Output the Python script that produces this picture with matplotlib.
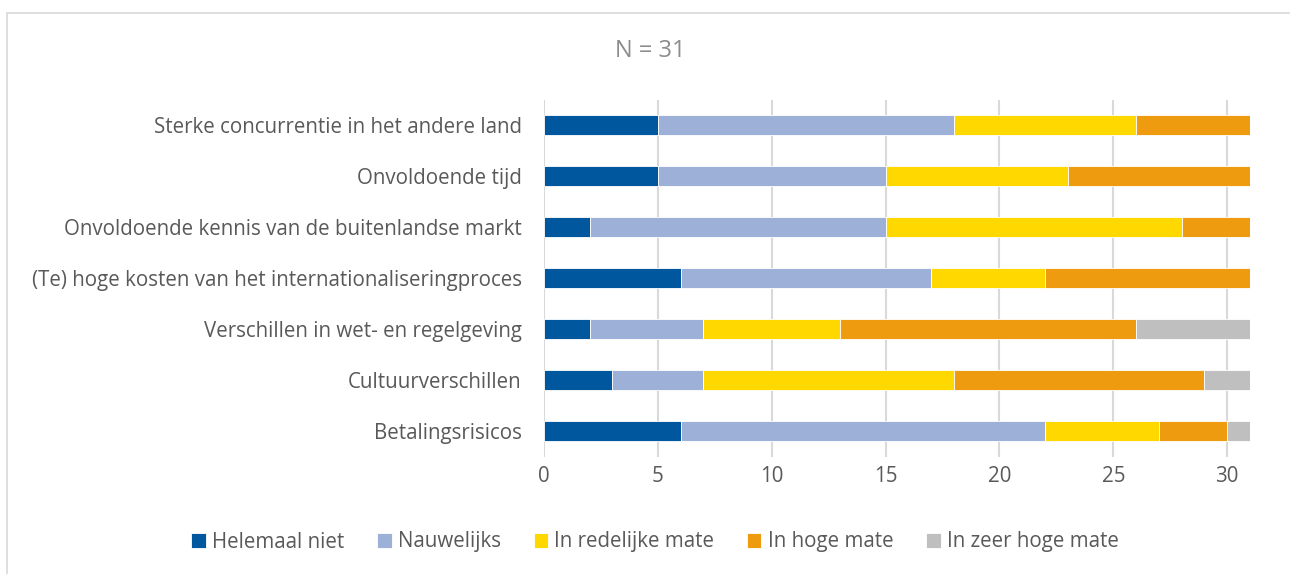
import numpy as np
import matplotlib
matplotlib.use("Agg")
import matplotlib.pyplot as plt
from matplotlib.patches import Rectangle

# categories, top to bottom as in the picture
categories = [
    "Sterke concurrentie in het andere land",
    "Onvoldoende tijd",
    "Onvoldoende kennis van de buitenlandse markt",
    "(Te) hoge kosten van het internationaliseringproces",
    "Verschillen in wet- en regelgeving",
    "Cultuurverschillen",
    "Betalingsrisicos",
]
series_names = ["Helemaal niet", "Nauwelijks", "In redelijke mate",
                "In hoge mate", "In zeer hoge mate"]
helemaal_niet = [5, 5, 2, 6, 2, 3, 6]
nauwelijks = [13, 10, 13, 11, 5, 4, 16]
redelijk = [8, 8, 13, 5, 6, 11, 5]
hoog = [5, 8, 3, 9, 13, 11, 3]
zeer_hoog = [0, 0, 0, 0, 5, 2, 1]
colors = ["#00579E", "#9DB1D8", "#FFD800", "#EF9B0F", "#BFBFBF"]
x_ticks = [0, 5, 10, 15, 20, 25, 30]

TEXT = "#595959"
FS = 14.8
plt.rcParams["font.family"] = ["Open Sans", "DejaVu Sans"]

fig = plt.figure(figsize=(12.90, 5.74), dpi=100)
ax = fig.add_axes([544 / 1290, 1 - 456.5 / 574, (1250 - 544) / 1290, 357 / 574])

# light frame of the chart area (left and top only visible)
fig.patches.append(Rectangle((7 / 1290, -0.1), 1.2, 1 - 13 / 574 + 0.1,
                             transform=fig.transFigure, fill=False,
                             edgecolor="#D9D9D9", lw=1.2))

y = np.arange(len(categories))
left = np.zeros(len(categories))
for vals, name, col in zip([helemaal_niet, nauwelijks, redelijk, hoog, zeer_hoog],
                           series_names, colors):
    ax.barh(y, vals, left=left, height=0.4, color=col, label=name,
            edgecolor="white", linewidth=0.6, zorder=3)
    left += np.array(vals)

ax.set_xlim(0, 31)
ax.set_ylim(len(categories) - 0.5, -0.5)
ax.set_yticks(y)
ax.set_yticklabels(categories, fontsize=FS, color=TEXT)
ax.set_xticks(x_ticks)
ax.set_xticklabels([str(t) for t in x_ticks], fontsize=FS, color=TEXT)
ax.tick_params(length=0, pad=7)
ax.tick_params(axis="y", pad=16)
ax.grid(axis="x", color="#D9D9D9", lw=1.5, zorder=0)
for s in ax.spines.values():
    s.set_visible(False)

fig.text(650 / 1290, 1 - 51 / 574, "N = 31", ha="center", va="center",
         fontsize=17, color="#8C8C8C")

leg = fig.legend(loc="center", bbox_to_anchor=(655 / 1290, 1 - 542 / 574),
                 ncol=5, frameon=False, fontsize=FS, handlelength=0.7,
                 handleheight=0.7, handletextpad=0.3, columnspacing=1.6)
for t in leg.get_texts():
    t.set_color(TEXT)

fig.savefig("out.png", dpi=100)
